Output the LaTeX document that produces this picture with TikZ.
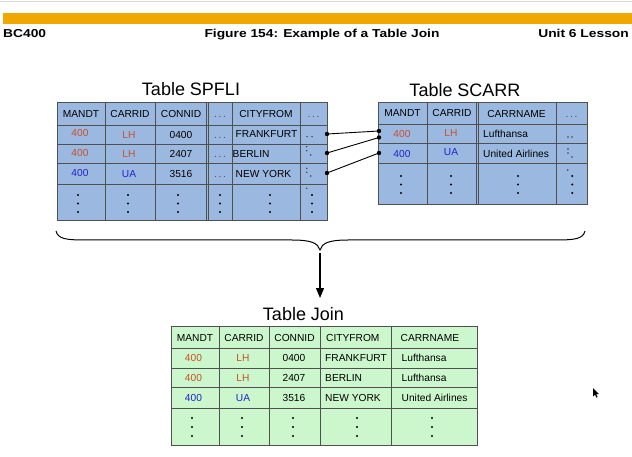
\documentclass[tikz,border=0pt]{standalone}
\usepackage{fontspec}
\setmainfont{Liberation Sans}
\newfontfamily\hdrfont[FakeStretch=1.2]{Liberation Sans}
\usetikzlibrary{arrows.meta}
\definecolor{barorange}{HTML}{F0A800}
\definecolor{tblue}{HTML}{9BB9E0}
\definecolor{tgreen}{HTML}{CCF7CC}
\definecolor{tline}{HTML}{505050}
\definecolor{vred}{HTML}{C8502A}
\definecolor{vblue}{HTML}{2222CC}
\begin{document}
\begin{tikzpicture}[x=1pt,y=-1pt,
  cell/.style={inner sep=0pt,font=\fontsize{10.2}{12}\selectfont,text height=7.4pt,text depth=0pt},
  lcell/.style={cell,anchor=west},
  redv/.style={text=vred},
  bluev/.style={text=vblue},
  ell/.style={cell,text=black!70},
  tabtitle/.style={inner sep=0pt,font=\fontsize{18}{20}\selectfont,text height=13pt,text depth=0pt},
  hdr/.style={inner sep=0pt,font=\hdrfont\bfseries\fontsize{11.5}{13}\selectfont,text height=8.2pt,text depth=0pt},
  grid/.style={draw=tline,line width=0.8pt},
  conn/.style={draw=black,line width=0.9pt}
]
\useasboundingbox (0,0) rectangle (632,457);
\fill[white] (0,0) rectangle (632,457);
% top rule and bar
\draw[black!15,line width=0.8pt] (0,1.7) -- (632,1.7);
\fill[barorange] (3,13) rectangle (632,24);
\node[hdr,anchor=west] (bc) at (3,33) {BC400};
\node[hdr] (fig) at (322,33) {Figure 154: Example of a Table Join};
\node[hdr,anchor=east] (unit) at (629,33) {Unit 6 Lesson};

% ---------- Table SPFLI ----------
\node[tabtitle] (tspfli) at (191,89.5) {Table SPFLI};
\draw[grid,fill=tblue] (57,102) rectangle (327,220);
\foreach \x in {105,155,232,300} \draw[grid] (\x,102) -- (\x,220);
\draw[grid,line width=0.7pt] (206,102) -- (206,220);
\draw[grid,line width=0.7pt] (208.3,102) -- (208.3,220);
\foreach \y in {125,144,163,184} \draw[grid] (57,\y) -- (327,\y);
\node[cell] (s-h1) at (81,113.5) {MANDT};
\node[cell] (s-h2) at (130,113.5) {CARRID};
\node[cell] (s-h3) at (181,113.5) {CONNID};
\node[ell] (s-h4) at (220,113.5) {.\,.\,.};
\node[cell] (s-h5) at (266,113.5) {CITYFROM};
\node[ell] (s-h6) at (313.5,113.5) {.\,.\,.};
\node[cell,redv] (s-11) at (80,133) {400};
\node[cell,redv] (s-12) at (129,134.5) {LH};
\node[cell] (s-13) at (181,134.5) {0400};
\node[ell] (s-14) at (220,134.5) {.\,.\,.};
\node[lcell] (s-15) at (235.5,134) {FRANKFURT};
\node[cell,redv] (s-21) at (80,152.5) {400};
\node[cell,redv] (s-22) at (129,154) {LH};
\node[cell] (s-23) at (181,154) {2407};
\node[ell] (s-24) at (220,154) {.\,.\,.};
\node[lcell] (s-25) at (232.5,153.5) {BERLIN};
\node[cell,bluev] (s-31) at (80,172.5) {400};
\node[cell,bluev] (s-32) at (129,174) {UA};
\node[cell] (s-33) at (181,174) {3516};
\node[ell] (s-34) at (220,174) {.\,.\,.};
\node[lcell] (s-35) at (235.5,173.5) {NEW YORK};
\foreach \x in {78,128,178,220,270,312}
  \foreach \y in {195,203.5,212} \fill[black] (\x,\y) circle (1.1pt);
\foreach \p in {(307,136.7),(312,136.7),(306.7,146.7),(306.7,150.7),(310.7,155),
  (306.7,168.3),(306.7,172.3),(310.7,176),(306.7,188.3)}
  \fill[black!75] \p circle (0.8pt);

% ---------- Table SCARR ----------
\node[tabtitle] (tscarr) at (465,90) {Table SCARR};
\draw[grid,fill=tblue] (378,102) rectangle (587,204);
\foreach \x in {427,556} \draw[grid] (\x,102) -- (\x,204);
\draw[grid,line width=0.7pt] (476,102) -- (476,204);
\draw[grid,line width=0.7pt] (478.3,102) -- (478.3,204);
\foreach \y in {124,143,163} \draw[grid] (378,\y) -- (587,\y);
\node[cell] (c-h1) at (402.5,113) {MANDT};
\node[cell] (c-h2) at (452,113) {CARRID};
\node[cell] (c-h3) at (516.5,113.5) {CARRNAME};
\node[ell] (c-h4) at (571.5,113.5) {.\,.\,.};
\node[cell,redv] (c-11) at (402,134) {400};
\node[cell,redv] (c-12) at (451,132.5) {LH};
\node[lcell] (c-13) at (483,134) {Lufthansa};
\node[cell,bluev] (c-21) at (402,153.5) {400};
\node[cell,bluev] (c-22) at (451,152) {UA};
\node[lcell] (c-23) at (483,153.5) {United Airlines};
\foreach \x in {401,451,518,572.3}
  \foreach \y in {176,184.5,193} \fill[black] (\x,\y) circle (1.1pt);
\foreach \p in {(568,137),(572,137),(568,149),(568,153),(572,157),(567.7,170)}
  \fill[black!75] \p circle (0.8pt);

% ---------- connectors ----------
\coordinate (a1) at (327,134);
\coordinate (a2) at (327,153);
\coordinate (a3) at (327,173);
\coordinate (b1) at (379,131);
\coordinate (b2) at (379,137.5);
\coordinate (b3) at (379,153);
\draw[conn] (a1) -- (b1);
\draw[conn] (a2) -- (b2);
\draw[conn] (a3) -- (b3);
\foreach \c in {a1,a2,a3,b1,b2,b3} \fill[black] (\c) circle (2.2pt);

% ---------- brace and arrow ----------
\coordinate (bl) at (56,231);
\coordinate (bt) at (320,250);
\coordinate (br) at (585,231);
\coordinate (arrs) at (320,253);
\coordinate (arre) at (320,298);
\draw[black,line width=1pt] (bl) .. controls (58,239) and (66,240) .. (86,240)
  -- (292,240) .. controls (311,240) and (318,243) .. (bt)
  .. controls (322,243) and (329,240) .. (348,240)
  -- (555,240) .. controls (575,240) and (583,239) .. (br);
\draw[black,line width=1.2pt,-{Triangle[width=8pt,length=10pt]}] (arrs) -- (arre);

% ---------- Table Join ----------
\node[tabtitle] (tjoin) at (303.5,313.5) {Table Join};
\draw[grid,fill=tgreen] (171,326) rectangle (477,445);
\foreach \x in {219,269,320,391} \draw[grid] (\x,326) -- (\x,445);
\foreach \y in {348,368,387,408} \draw[grid] (171,\y) -- (477,\y);
\node[cell] (j-h1) at (195,337.5) {MANDT};
\node[cell] (j-h2) at (244,337.5) {CARRID};
\node[cell] (j-h3) at (294.5,337.5) {CONNID};
\node[lcell] (j-h4) at (326,337.5) {CITYFROM};
\node[lcell] (j-h5) at (400.5,337.5) {CARRNAME};
\node[cell,redv] (j-11) at (193.5,358) {400};
\node[cell,redv] (j-12) at (243,358) {LH};
\node[cell] (j-13) at (294,358) {0400};
\node[lcell] (j-14) at (325,358) {FRANKFURT};
\node[lcell] (j-15) at (401.5,358) {Lufthansa};
\node[cell,redv] (j-21) at (193.5,377.5) {400};
\node[cell,redv] (j-22) at (243,377.5) {LH};
\node[cell] (j-23) at (294,377.5) {2407};
\node[lcell] (j-24) at (325,377.5) {BERLIN};
\node[lcell] (j-25) at (401.5,377.5) {Lufthansa};
\node[cell,bluev] (j-31) at (193.5,397.5) {400};
\node[cell,bluev] (j-32) at (243,397.5) {UA};
\node[cell] (j-33) at (294,397.5) {3516};
\node[lcell] (j-34) at (325,397.5) {NEW YORK};
\node[lcell] (j-35) at (401.5,398) {United Airlines};
\foreach \x in {192,242,293,357,432}
  \foreach \y in {418,427,436} \fill[black] (\x,\y) circle (1.1pt);

% ---------- mouse pointer ----------
\fill[black] (593,388) -- (593,396.5) -- (595,394.6) -- (596.4,397.6) -- (597.6,397.1)
  -- (596.3,394.1) -- (599,394.1) -- cycle;
\end{tikzpicture}
\end{document}
